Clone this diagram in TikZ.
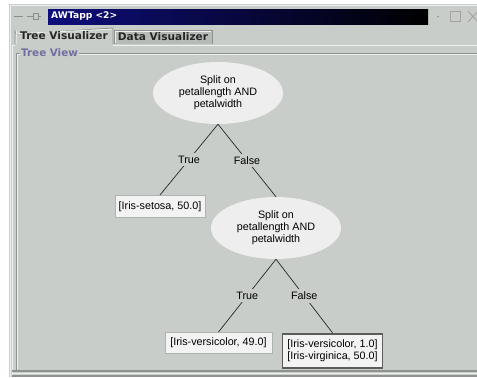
\documentclass[tikz,border=0pt]{standalone}
\usepackage{fontspec}
\setmainfont{Liberation Sans}
\newfontfamily\chromefont{DejaVu Sans}
\usetikzlibrary{shapes.geometric}

\definecolor{panel}{HTML}{C9CDC9}
\definecolor{nodefill}{HTML}{EEEEEE}
\definecolor{leaffill}{HTML}{F3F3F3}
\definecolor{leafedge}{HTML}{B0B4B0}
\definecolor{selectedge}{HTML}{5C5C5C}
\definecolor{navy}{HTML}{0E0E7C}
\definecolor{tabdark}{HTML}{B7BBB7}
\definecolor{groupblue}{HTML}{7070A0}
\definecolor{etchdark}{HTML}{8F938F}
\definecolor{etchlight}{HTML}{EEF0EE}
\definecolor{icongray}{HTML}{8C8C8C}

\begin{document}
\begin{tikzpicture}[x=1bp, y=-1bp,
  treefont/.style={font=\fontsize{10.8}{12.2}\selectfont},
  split/.style={ellipse, fill=nodefill, minimum width=130bp, minimum height=62bp,
    inner sep=0pt, align=center, treefont},
  leaf/.style={rectangle, fill=leaffill, draw=leafedge, line width=0.6bp,
    inner sep=0pt, align=left, anchor=north, treefont},
  chosen/.style={leaf, draw=selectedge, line width=1.8bp},
  branch/.style={fill=panel, inner xsep=2bp, inner ysep=3bp, treefont},
  edge/.style={draw=black!85, line width=0.7bp},
  tabtext/.style={font=\chromefont\bfseries\fontsize{10.6}{12}\selectfont, text=black!85},
  etch/.style={line width=0.8bp}
]
\useasboundingbox (0,0) rectangle (477,377);

% desktop and window frame
\fill[white] (0,0) rectangle (477,377);
\fill[panel] (9,4) rectangle (477,377);
\draw[etchlight, line width=1bp] (10,377) -- (10,5) -- (477,5);

% title bar row
\draw[icongray, line width=1bp] (14,16.5) -- (23,16.5);
\draw[icongray, line width=0.9bp] (27,16.5) -- (33,16.5) (33,13) -- (33,20)
  (33,13.5) -- (38,13.5) -- (38,19.5) -- (33,19.5) (38,16.5) -- (41,16.5);
\shade[left color=navy, right color=black] (48,9) rectangle (428,24);
\node[anchor=west, text=white, inner sep=0pt,
  font=\chromefont\bfseries\fontsize{9.2}{10}\selectfont] (title) at (51,16.5) {AWTapp <2>};
\fill[icongray] (438,16.5) circle (0.9bp);
\draw[icongray!80, line width=0.8bp] (450.5,11.5) rectangle (460.5,21.5);
\draw[icongray!80, line width=0.9bp] (468,11) -- (478,22) (468,22) -- (478,11);

% tabs
\fill[tabdark] (114,30) rectangle (212,43.5);
\draw[etchdark, line width=0.8bp] (114,43.5) -- (114,30) -- (212,30) -- (212,43.5);
\draw[etchlight, line width=0.8bp] (115,42.5) -- (115,31) -- (211,31);
\node[tabtext] (datatab) at (163,37) {Data Visualizer};
\fill[panel] (15,31) arc[start angle=180, end angle=270, radius=3bp] -- (113,28) -- (113,44.5) -- (15,44.5) -- cycle;
\draw[etchdark, line width=0.8bp] (15,44) -- (15,31) arc[start angle=180, end angle=270, radius=3bp] -- (113,28) -- (113,44);
\draw[etchlight, line width=0.8bp] (16.2,44) -- (16.2,31.5) arc[start angle=180, end angle=270, radius=2bp] -- (112,29.2);
\node[tabtext] (treetab) at (64,36) {Tree Visualizer};
\draw[etchlight, line width=1bp] (12,375) -- (12,45) -- (15,45) (113,45) -- (477,45);

% "Tree View" group border
\draw[etchdark, etch] (16.5,370) -- (16.5,53.5) -- (480,53.5);
\draw[etchlight, etch] (17.5,369) -- (17.5,54.5) -- (480,54.5);
\draw[etchdark, line width=1.2bp] (12,371) -- (477,371);
\draw[etchlight, line width=1bp] (12,373) -- (477,373);
\draw[etchdark, line width=1.2bp] (12,376) -- (477,376);
\node[fill=panel, anchor=west, inner xsep=1bp, inner ysep=0pt, text=groupblue,
  font=\chromefont\bfseries\fontsize{10.4}{11}\selectfont] (groupname) at (20,53) {Tree View};

% decision tree
\node[split] (root) at (218,93) {Split on\\petallength AND\\petalwidth};
\node[split] (inner) at (276,228) {Split on\\petallength AND\\petalwidth};
\node[leaf, minimum width=90bp, minimum height=22bp] (setosa) at (160,195) {[Iris-setosa, 50.0]};
\node[leaf, minimum width=107bp, minimum height=21bp] (versicolor) at (218.5,332) {[Iris-versicolor, 49.0]};
\node[chosen, minimum width=100bp, minimum height=34bp] (mixed) at (332.5,332.8)
  {[Iris-versicolor, 1.0]\\{}[Iris-virginica, 50.0]};

\draw[edge] (root.south) -- node[branch] (t1) {True} (setosa.north);
\draw[edge] (root.south) -- node[branch] (f1) {False} (inner.north);
\draw[edge] (inner.south) -- node[branch] (t2) {True} (versicolor.north);
\draw[edge] (inner.south) -- node[branch] (f2) {False} (mixed.north);
\end{tikzpicture}
\end{document}
